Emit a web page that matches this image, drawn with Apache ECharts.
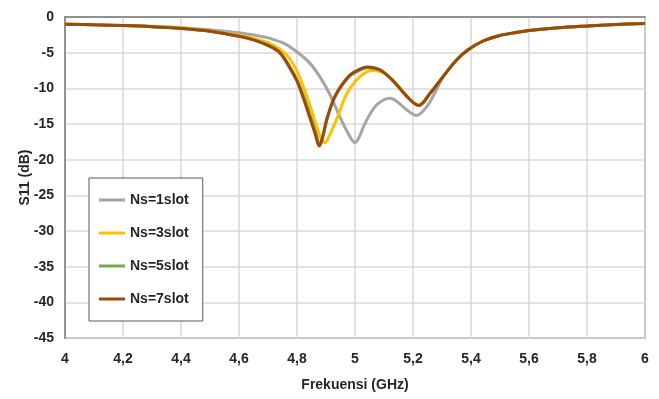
<!DOCTYPE html>
<html><head><meta charset="utf-8">
<script src="https://cdn.jsdelivr.net/npm/echarts@6/dist/echarts.min.js"></script>
<style>html,body{margin:0;padding:0;background:#fff}#c{width:659px;height:399px}</style>
</head><body><div id="c"></div>
<script>
const xTicks = [4, 4.2, 4.4, 4.6, 4.8, 5, 5.2, 5.4, 5.6, 5.8, 6];
const seriesNames = ['Ns=1slot', 'Ns=3slot', 'Ns=5slot', 'Ns=7slot'];

const freq1 = [4.0,4.1,4.2,4.3,4.4,4.5,4.6,4.66,4.707,4.76,4.8,4.845,4.879,4.914,4.948,4.983,5.0,5.015,5.029,5.052,5.075,5.1,5.12,5.14,5.178,5.212,5.247,5.282,5.305,5.351,5.39,5.44,5.5,5.55,5.6,5.7,5.8,5.9,6.0];
const s11_1 = [-1.0,-1.1,-1.2,-1.3,-1.5,-1.8,-2.2,-2.6,-3.0,-3.8,-4.9,-6.5,-8.4,-10.9,-14.0,-16.8,-17.6,-16.8,-15.4,-13.6,-12.3,-11.6,-11.4,-11.7,-13.0,-13.8,-12.6,-10.1,-8.3,-6.0,-4.6,-3.4,-2.6,-2.2,-1.9,-1.5,-1.25,-1.05,-0.9];

const freq3 = [4.0,4.1,4.2,4.3,4.4,4.5,4.6,4.65,4.7,4.74,4.77,4.8,4.833,4.868,4.885,4.897,4.91,4.937,4.971,5.006,5.04,5.063,5.109,5.155,5.19,5.22,5.259,5.305,5.351,5.39,5.44,5.5,5.55,5.6,5.7,5.8,5.9,6.0];
const s11_3 = [-1.0,-1.1,-1.2,-1.35,-1.55,-1.95,-2.55,-3.0,-3.6,-4.5,-5.6,-7.6,-11.0,-15.3,-17.2,-17.6,-16.8,-14.3,-10.8,-8.8,-7.7,-7.5,-8.1,-9.9,-11.6,-12.3,-10.7,-8.3,-6.0,-4.6,-3.4,-2.6,-2.2,-1.9,-1.5,-1.25,-1.05,-0.9];

const freq5 = [4.0,4.1,4.2,4.3,4.4,4.5,4.6,4.65,4.7,4.74,4.776,4.8,4.824,4.847,4.864,4.879,4.892,4.904,4.927,4.95,4.985,5.019,5.044,5.088,5.134,5.178,5.22,5.259,5.305,5.351,5.39,5.44,5.5,5.55,5.6,5.7,5.8,5.9,6.0];
const s11_5 = [-1.0,-1.1,-1.2,-1.35,-1.6,-2.0,-2.7,-3.2,-3.9,-4.9,-7.0,-8.8,-11.2,-14.0,-16.1,-17.9,-16.4,-14.3,-11.6,-9.9,-8.2,-7.4,-7.1,-7.5,-9.0,-11.1,-12.4,-10.7,-8.3,-6.0,-4.6,-3.4,-2.6,-2.2,-1.9,-1.5,-1.25,-1.05,-0.9];

const freq7 = [4.0,4.1,4.2,4.3,4.4,4.5,4.6,4.65,4.7,4.74,4.776,4.8,4.822,4.845,4.862,4.877,4.89,4.902,4.925,4.948,4.983,5.017,5.04,5.086,5.132,5.178,5.22,5.259,5.305,5.351,5.39,5.44,5.5,5.55,5.6,5.7,5.8,5.9,6.0];
const s11_7 = [-1.0,-1.1,-1.2,-1.35,-1.6,-2.0,-2.7,-3.2,-4.0,-5.0,-7.2,-9.0,-11.4,-14.2,-16.3,-18.1,-16.5,-14.4,-11.6,-9.9,-8.1,-7.3,-7.0,-7.4,-9.0,-11.1,-12.4,-10.7,-8.3,-6.0,-4.6,-3.4,-2.6,-2.2,-1.9,-1.5,-1.25,-1.05,-0.9];

const colors = ['#a5a5a5', '#ffc000', '#70ad47', '#9e480e'];
const freqs = [freq1, freq3, freq5, freq7];
const vals = [s11_1, s11_3, s11_5, s11_7];

const font = 'Liberation Sans';
const txt = '#262626';
const chart = echarts.init(document.getElementById('c'));
chart.setOption({
  animation: false,
  color: colors,
  grid: {left: 65, right: 14, top: 17, bottom: 61, show: true, borderColor: '#7f7f7f', borderWidth: 1.5},
  legend: {
    orient: 'vertical', left: 89, top: 178,
    backgroundColor: '#fff', borderColor: '#595959', borderWidth: 1,
    padding: [14, 14, 14, 10],
    itemWidth: 26, itemHeight: 3, itemGap: 17, icon: 'rect',
    textStyle: {fontFamily: font, fontWeight: 'bold', fontSize: 14, color: txt, lineHeight: 16},
    data: seriesNames
  },
  xAxis: {
    type: 'value', min: 4, max: 6, interval: 0.2,
    name: 'Frekuensi (GHz)', nameLocation: 'middle', nameGap: 40, nameMoveOverlap: false,
    nameTextStyle: {fontFamily: font, fontWeight: 'bold', fontSize: 14, color: txt},
    axisLine: {show: true, lineStyle: {color: '#7f7f7f', width: 1.5}},
    axisTick: {show: false},
    splitLine: {show: true, lineStyle: {color: '#d9d9d9', width: 1.5}},
    axisLabel: {fontFamily: font, fontWeight: 'bold', fontSize: 14, color: txt, margin: 14,
      formatter: v => String(Math.round(v * 10) / 10).replace('.', ',')}
  },
  yAxis: {
    type: 'value', min: -45, max: 0, interval: 5,
    name: 'S11 (dB)', nameLocation: 'middle', nameGap: 33, nameMoveOverlap: false,
    nameTextStyle: {fontFamily: font, fontWeight: 'bold', fontSize: 14, color: txt},
    axisLine: {show: true, lineStyle: {color: '#7f7f7f', width: 1.5}},
    axisTick: {show: false},
    splitLine: {show: true, lineStyle: {color: '#d9d9d9', width: 1.5}},
    axisLabel: {fontFamily: font, fontWeight: 'bold', fontSize: 14, color: txt, margin: 11}
  },
  series: seriesNames.map((n, i) => ({
    name: n, type: 'line', smooth: 0.35, showSymbol: false,
    lineStyle: {width: 3, color: colors[i]},
    data: freqs[i].map((f, j) => [f, vals[i][j]])
  }))
});
</script></body></html>
